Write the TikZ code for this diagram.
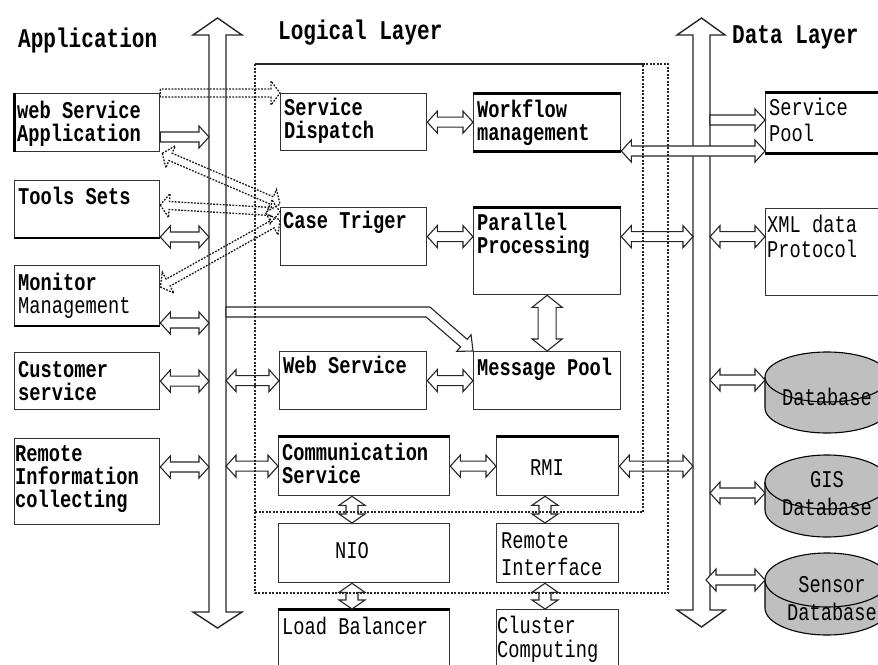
\documentclass[tikz,border=0pt]{standalone}
\usepackage{fontspec}
\newfontfamily\lab[FakeStretch=0.78]{Liberation Mono}
\usetikzlibrary{calc}
\newcommand\st{\rule{0pt}{18pt}}
% hollow arrow helpers: #1 style, #2 start, #3 end, #4 half shaft, #5 half head, #6 head length
\newcommand\hgeom[2]{\path let \p1=(#1), \p2=(#2), \n1={atan2(\y2-\y1,\x2-\x1)}, \n2={veclen(\x2-\x1,\y2-\y1)} in
  \pgfextra{\pgfmathparse{\n1}\xdef\hA{\pgfmathresult}\pgfmathparse{\n2}\xdef\hL{\pgfmathresult}};}
\newcommand\hdbl[6]{\hgeom{#2}{#3}%
  \draw[#1, shift={(#2)}, rotate=\hA] (0,0) -- (#6,#5) -- (#6,#4) -- (\hL-#6,#4) -- (\hL-#6,#5) -- (\hL,0) -- (\hL-#6,-#5) -- (\hL-#6,-#4) -- (#6,-#4) -- (#6,-#5) -- cycle;}
\newcommand\hsgl[6]{\hgeom{#2}{#3}%
  \draw[#1, shift={(#2)}, rotate=\hA] (0,-#4) -- (0,#4) -- (\hL-#6,#4) -- (\hL-#6,#5) -- (\hL,0) -- (\hL-#6,-#5) -- (\hL-#6,-#4) -- cycle;}
\begin{document}
\begin{tikzpicture}[x=1pt,y=-1pt,
  box/.style={draw=black!80, line width=1.3pt, fill=white, inner sep=0pt, anchor=north west},
  lbl/.style={inner sep=0pt, anchor=north west, align=left, font=\lab\bfseries\fontsize{24}{23}\selectfont},
  lblr/.style={lbl, font=\lab\fontsize{24}{23}\selectfont},
  ttl/.style={inner sep=0pt, anchor=north west, font=\lab\bfseries\fontsize{27}{27}\selectfont},
  bus/.style={draw=black!85, line width=1.4pt, fill=white, line join=miter},
  ha/.style={draw=black!85, line width=1.1pt, fill=white, line join=miter},
  da/.style={draw=black!90, line width=1.3pt, dash pattern=on 1.8pt off 1.4pt, line join=miter},
  dotbox/.style={draw=black!85, line width=1.4pt, dash pattern=on 2pt off 1.5pt},
  cylf/.style={draw=black, line width=1.1pt, fill=black!25},
  thk/.style={draw=black, line width=3pt}
]
\useasboundingbox (0,0) rectangle (878,664);
\clip (0,0) rectangle (878,664);
\fill[white] (0,0) rectangle (878,664);

% titles
\node[ttl] (tapp) at (18,28) {\st Application};
\node[ttl] (tlog) at (278,20) {\st Logical Layer};
\node[ttl] (tdat) at (732,25) {\st Data Layer};

% bus arrows
\draw[bus] (209,35) -- (193,35) -- (217.5,18) -- (242,35) -- (226,35) -- (226,612) -- (242,612) -- (217.5,628) -- (193,612) -- (209,612) -- cycle;
\draw[bus] (693,35) -- (677,35) -- (701.5,18) -- (725,35) -- (710,35) -- (710,610) -- (725,610) -- (701.5,627) -- (677,610) -- (693,610) -- cycle;
\coordinate (lsL) at (209,0);
\coordinate (lsR) at (226,0);
\coordinate (rsL) at (693,0);
\coordinate (rsR) at (710,0);
\coordinate (vx1) at (352,0);
\coordinate (vx2) at (545,0);

% application boxes
\node[box, minimum width=145, minimum height=58] (ws) at (14,93) {};
\node[box, minimum width=145, minimum height=57] (ts) at (14,180) {};
\node[box, minimum width=145, minimum height=60] (mm) at (14,265) {};
\node[box, minimum width=145, minimum height=57] (cs) at (14,352) {};
\node[box, minimum width=145, minimum height=86] (ri) at (14,438) {};
\draw[thk] (ws.north west) -- (ws.south west);
\draw[thk, line width=2.2pt] (ts.south west) -- (ts.south east);
\draw[thk, line width=2.2pt] (mm.south west) -- (mm.south east);

% logical boxes
\node[box, minimum width=146, minimum height=57] (sd) at (280,93) {};
\node[box, minimum width=147, minimum height=57] (wf) at (473,93) {};
\node[box, minimum width=146, minimum height=58] (ct) at (280,207) {};
\node[box, minimum width=147, minimum height=87] (pp) at (473,207) {};
\node[box, minimum width=147, minimum height=58] (wb) at (279,351) {};
\node[box, minimum width=147, minimum height=58] (mp) at (473,351) {};
\node[box, minimum width=171, minimum height=59] (cm) at (278,436) {};
\node[box, minimum width=122, minimum height=59] (rmi) at (496,436) {};
\node[box, minimum width=171, minimum height=59] (nio) at (278,523) {};
\node[box, minimum width=122, minimum height=59] (rif) at (496,523) {};
\node[box, minimum width=171, minimum height=70] (lb) at (278,609) {};
\node[box, minimum width=122, minimum height=70] (cc) at (496,609) {};
\draw[thk] (wf.north west) -- (wf.north east);
\draw[thk] (wf.south west) -- (wf.south east);
\draw[thk] (pp.north west) -- (pp.north east);
\draw[thk] (cm.north west) -- (cm.north east);
\draw[thk] (rmi.north west) -- (rmi.north east);
\draw[thk] (lb.north west) -- (lb.north east);

% data boxes
\node[box, minimum width=130, minimum height=60] (sp) at (765,92) {};
\node[box, minimum width=130, minimum height=87] (xml) at (765,208) {};
\draw[thk] (sp.north west) -- (sp.north east);
\draw[thk] (sp.south west) -- (sp.south east);

% cylinders
\filldraw[cylf] (765,377) -- (765,408) arc[start angle=180, end angle=0, x radius=62, y radius=25] -- (889,377) arc[start angle=0, end angle=-180, x radius=62, y radius=25] -- cycle;
\draw[cylf, fill=none] (765,377) arc[start angle=180, end angle=0, x radius=62, y radius=25];
\filldraw[cylf] (765,482) -- (765,510) arc[start angle=180, end angle=0, x radius=62, y radius=27] -- (889,482) arc[start angle=0, end angle=-180, x radius=62, y radius=27] -- cycle;
\draw[cylf, fill=none] (765,482) arc[start angle=180, end angle=0, x radius=62, y radius=27];
\filldraw[cylf] (765,580) -- (765,608) arc[start angle=180, end angle=0, x radius=62, y radius=27] -- (889,580) arc[start angle=0, end angle=-180, x radius=62, y radius=27] -- cycle;
\draw[cylf, fill=none] (765,580) arc[start angle=180, end angle=0, x radius=62, y radius=27];
\coordinate (db1) at (765,380);
\coordinate (db2) at (765,493);
\coordinate (db3) at (765,580);

% labels
\node[lbl] (wst) at (17,100) {\st web Service\\Application};
\node[lbl] (tst) at (18,186) {\st Tools Sets};
\node[lbl] (mmt) at (18,272) {\st Monitor\\{\mdseries Management}};
\node[lbl] (cst) at (18,359) {\st Customer\\service};
\node[lbl] (rit) at (15,443) {\st Remote\\Information\\collecting};
\node[lbl] (sdt) at (284,97) {\st Service\\Dispatch};
\node[lbl] (wft) at (477,99) {\st Workflow\\management};
\node[lbl] (ctt) at (283,210) {\st Case Triger};
\node[lbl] (ppt) at (477,212) {\st Parallel\\Processing};
\node[lbl] (wbt) at (283,355) {\st Web Service};
\node[lbl] (mpt) at (477,357) {\st Message Pool};
\node[lbl] (cmt) at (282,442) {\st Communication\\Service};
\node[lblr, anchor=north, align=center] (rmit) at (547,457) {\st RMI};
\node[lblr, anchor=north, align=center] (niot) at (352,540) {\st NIO};
\node[lblr, font=\lab\fontsize{24}{27}\selectfont] (rift) at (501,530) {\st Remote\\Interface};
\node[lblr] (lbt) at (282,616) {\st Load Balancer};
\node[lblr, font=\lab\fontsize{24}{24}\selectfont] (cct) at (497,615) {\st Cluster\\Computing};
\node[lblr, font=\lab\fontsize{24}{26}\selectfont] (spt) at (769,97) {\st Service\\Pool};
\node[lblr, font=\lab\fontsize{24}{25}\selectfont] (xmlt) at (767,214) {\st XML data\\Protocol};
\node[lblr, anchor=north, align=center] (db1t) at (827,387) {\st Database};
\node[lblr, anchor=north, align=center, font=\lab\fontsize{24}{28}\selectfont] (db2t) at (827,469) {\st GIS\\Database};
\node[lblr, anchor=north, align=center, font=\lab\fontsize{24}{28}\selectfont] (db3t) at (832,574) {\st Sensor\\Database};

% hollow arrows, left
\hsgl{ha}{ws.east |- 0,137}{lsL |- 0,137}{5}{11}{10}
\hdbl{ha}{ts.east |- 0,237}{lsL |- 0,237}{5}{11}{10}
\hdbl{ha}{mm.east |- 0,323}{lsL |- 0,323}{5}{11}{10}
\hdbl{ha}{cs.east}{cs.east -| lsL}{5}{11}{10}
\hdbl{ha}{ri.east |- 0,467}{lsL |- 0,467}{5}{11}{10}
\hdbl{ha}{lsR |- wb.west}{wb.west}{5}{11}{10}
\hdbl{ha}{lsR |- cm.west}{cm.west}{5}{11}{10}
% logical
\hdbl{ha}{sd.east}{wf.west}{5}{11}{10}
\hdbl{ha}{ct.east}{ct.east -| pp.west}{5}{11}{10}
\hdbl{ha}{wb.east}{mp.west}{5}{11}{10}
\hdbl{ha}{cm.east}{rmi.west}{5}{11}{10}
\hdbl{ha}{pp.south}{mp.north}{9}{15}{12}
\hdbl{ha}{cm.south -| vx1}{nio.north -| vx1}{6}{13}{9}
\hdbl{ha}{rmi.south -| vx2}{rif.north -| vx2}{6}{13}{9}
\hdbl{ha}{nio.south -| vx1}{lb.north -| vx1}{6}{13}{9}
\hdbl{ha}{rif.south -| vx2}{cc.north -| vx2}{6}{13}{9}
% bent arrow from the application bus to the message pool
\draw[ha] (lsR |- 0,307) -- (429.9,307) -- (467.2,339.3) -- (471.1,334.8) -- (mp.north west) -- (456.7,351.4) -- (460.6,346.9) -- (426.1,317) -- (lsR |- 0,317) -- cycle;
% right
\hsgl{ha}{rsR |- 0,120}{sp.west |- 0,120}{5}{11}{10}
\hdbl{ha}{wf.east |- 0,151}{sp.west |- 0,151}{5}{11}{10}
\hdbl{ha}{pp.east |- ct.east}{rsL |- ct.east}{5}{11}{10}
\hdbl{ha}{rsR |- ct.east}{xml.west |- ct.east}{5}{11}{10}
\hdbl{ha}{rmi.east}{rmi.east -| rsL}{5}{11}{10}
\hdbl{ha}{rsR |- db1}{db1}{5}{11}{10}
\hdbl{ha}{rsR |- db2}{db2}{5}{11}{10}
\hdbl{ha}{[xshift=-4pt]rsR |- db3}{db3}{5}{11}{10}

% dotted arrows
\hsgl{da}{ws.north east}{sd.north west}{4}{12}{9}
\hdbl{da}{[shift={(2,1)}]ws.south east}{ct.west |- 0,204}{4}{12}{9}
\hdbl{da}{ts.east |- 0,205}{ct.west |- 0,212}{4}{12}{9}
\hdbl{da}{mm.east |- 0,287}{ct.west |- 0,220}{4}{12}{9}

% layer boxes
\draw[dotbox] (255,64) rectangle (643,512);
\draw[dotbox] (255,64) rectangle (668,593);
\end{tikzpicture}
\end{document}
